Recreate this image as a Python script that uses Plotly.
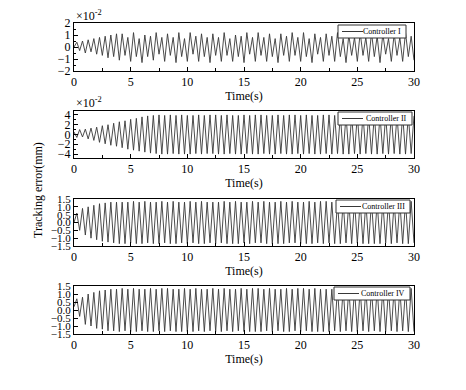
import numpy as np
import plotly.graph_objects as go

# time samples (s) of the read-off extremes, every 0.25 s
time_s = np.arange(0, 30.001, 0.25)

# tracking error, controller I (x1e-2 mm)
err_c1 = [0.0,
          0.4, -0.3, 0.5, -0.5, 0.6, -0.4, 0.7, -0.6,
          0.8, -0.7, 0.9, -0.9, 1.0, -0.8, 1.1, -1.1,
          1.1, -0.7, 0.8, -1.2, 1.2, -0.8, 0.7, -1.3,
          1.0, -0.8, 0.9, -1.1, 1.2, -0.6, 0.8, -1.2,
          1.1, -0.7, 0.8, -1.3, 1.2, -0.8, 0.7, -1.2,
          1.2, -0.6, 0.9, -1.2, 1.1, -0.8, 0.8, -1.3,
          1.1, -0.7, 0.8, -1.2, 1.2, -0.7, 0.7, -1.2,
          1.0, -0.8, 0.9, -1.3, 1.2, -0.6, 0.8, -1.2,
          1.2, -0.7, 0.8, -1.2, 1.1, -0.8, 0.7, -1.3,
          1.1, -0.7, 0.9, -1.2, 1.2, -0.7, 0.8, -1.2,
          1.2, -0.8, 0.7, -1.3, 1.1, -0.6, 0.8, -1.2,
          1.1, -0.7, 0.9, -1.2, 1.2, -0.8, 0.7, -1.3,
          1.0, -0.7, 0.8, -1.2, 1.2, -0.7, 0.8, -1.2,
          1.2, -0.8, 0.9, -1.3, 1.1, -0.6, 0.7, -1.2,
          1.1, -0.7, 0.8, -1.2, 1.2, -0.8, 0.9, -1.1]

# controller II (x1e-2 mm)
err_c2 = [0.5,
          -0.6, 1.0, -0.5, 1.1, -0.9, 1.3, -1.2, 1.5,
          -1.6, 1.8, -1.9, 2.0, -2.2, 2.3, -2.4, 2.6,
          -2.7, 2.8, -3.0, 3.1, -3.2, 3.3, -3.4, 3.6,
          -3.6, 3.8, -3.8, 3.9, -3.9, 4.0, -4.0, 3.9,
          -4.0, 4.0, -3.9, 3.9, -4.0, 4.0, -4.0, 3.9,
          -4.0, 3.9, -3.9, 4.0, -4.0, 3.9, -3.9, 4.0,
          -3.9, 4.0, -4.0, 3.9, -4.0, 4.0, -3.9, 3.9,
          -4.0, 3.9, -4.0, 4.0, -3.9, 3.9, -4.0, 4.0,
          -4.0, 4.0, -3.9, 3.9, -4.0, 3.9, -4.0, 4.0,
          -3.9, 3.9, -4.0, 4.0, -4.0, 4.0, -3.9, 3.9,
          -4.0, 4.0, -3.9, 3.9, -4.0, 3.9, -4.0, 4.0,
          -3.9, 4.0, -4.0, 3.9, -3.9, 4.0, -4.0, 3.9,
          -4.0, 3.9, -3.9, 4.0, -4.0, 4.0, -3.9, 3.9,
          -4.0, 4.0, -4.0, 3.9, -3.9, 3.9, -4.0, 4.0,
          -3.9, 3.9, -4.0, 4.0, -4.0, 3.9, -3.9, 3.8]

# controller III (mm)
err_c3 = [0.0,
          0.6, -0.5, 0.9, -0.8, 1.0, -1.0, 1.1, -1.1,
          1.2, -1.2, 1.25, -1.25, 1.3, -1.3, 1.3, -1.35,
          1.3, -1.35, 1.3, -1.3, 1.35, -1.35, 1.3, -1.35,
          1.35, -1.3, 1.3, -1.35, 1.3, -1.35, 1.35, -1.3,
          1.3, -1.35, 1.35, -1.35, 1.3, -1.3, 1.3, -1.35,
          1.35, -1.3, 1.3, -1.35, 1.35, -1.35, 1.3, -1.3,
          1.3, -1.35, 1.3, -1.3, 1.35, -1.35, 1.3, -1.35,
          1.35, -1.35, 1.3, -1.3, 1.3, -1.35, 1.35, -1.3,
          1.3, -1.3, 1.35, -1.35, 1.3, -1.35, 1.3, -1.35,
          1.35, -1.35, 1.3, -1.3, 1.35, -1.3, 1.3, -1.35,
          1.3, -1.35, 1.35, -1.35, 1.3, -1.3, 1.35, -1.35,
          1.35, -1.3, 1.3, -1.35, 1.3, -1.35, 1.3, -1.3,
          1.3, -1.35, 1.35, -1.3, 1.35, -1.35, 1.3, -1.35,
          1.35, -1.35, 1.3, -1.35, 1.3, -1.3, 1.35, -1.35,
          1.3, -1.3, 1.35, -1.35, 1.3, -1.35, 1.35, -1.3]

# controller IV (mm)
err_c4 = [0.2,
          0.7, -0.4, 0.8, -0.9, 1.0, -1.0, 1.1, -1.15,
          1.2, -1.2, 1.25, -1.3, 1.3, -1.3, 1.3, -1.35,
          1.35, -1.3, 1.3, -1.35, 1.35, -1.35, 1.3, -1.3,
          1.3, -1.35, 1.35, -1.35, 1.3, -1.3, 1.35, -1.35,
          1.35, -1.3, 1.3, -1.35, 1.3, -1.35, 1.35, -1.35,
          1.3, -1.35, 1.35, -1.3, 1.3, -1.35, 1.3, -1.3,
          1.35, -1.35, 1.3, -1.35, 1.35, -1.3, 1.3, -1.35,
          1.3, -1.3, 1.35, -1.35, 1.3, -1.35, 1.35, -1.35,
          1.35, -1.35, 1.3, -1.3, 1.35, -1.35, 1.3, -1.3,
          1.3, -1.35, 1.35, -1.35, 1.3, -1.3, 1.35, -1.35,
          1.35, -1.3, 1.3, -1.35, 1.35, -1.35, 1.3, -1.35,
          1.3, -1.35, 1.3, -1.3, 1.35, -1.35, 1.35, -1.3,
          1.35, -1.35, 1.3, -1.35, 1.3, -1.3, 1.3, -1.35,
          1.3, -1.3, 1.35, -1.35, 1.35, -1.35, 1.3, -1.3,
          1.35, -1.35, 1.3, -1.3, 1.3, -1.35, 1.35, -1.35]

names = ["Controller I", "Controller II", "Controller III", "Controller IV"]
series = [err_c1, err_c2, err_c3, err_c4]
y_ranges = [[-2, 2], [-4.8, 4.8], [-1.5, 1.5], [-1.5, 1.5]]
y_dticks = [1, 2, 0.5, 0.5]
y_formats = ["d", "d", ".1f", ".1f"]

W, H = 466, 390
OFF = 8  # page body margin around the plot div


def px(x):
    return (x - OFF) / W


def py(y):
    return 1 - (y - OFF) / H


# (top, bottom) of each panel in pixels
panels = [(23, 71), (111, 158), (199, 246), (286, 334)]
# legend boxes: (left, right, top) in pixels
legend_box = [(338, 406, 25), (338, 412, 112), (336, 410, 200), (334, 410, 287)]

FONT = "Liberation Serif"
LINE = "#383838"
fig = go.Figure()
layout = {}
shapes = []
annotations = []
for i in range(4):
    k = "" if i == 0 else str(i + 1)
    fig.add_trace(go.Scatter(
        x=time_s, y=series[i], mode="lines", name=names[i],
        line=dict(color=LINE, width=0.9),
        xaxis="x" + k, yaxis="y" + k, showlegend=False,
    ))
    top, bot = panels[i]
    layout["xaxis" + k] = dict(
        domain=[px(74), px(414)], anchor="y" + k, range=[0, 30], dtick=5,
        ticks="inside", ticklen=4, tickcolor="black", automargin=False,
        minor=dict(dtick=2.5, ticks="inside", ticklen=3, tickcolor="black"),
        showline=True, mirror=True, linecolor="black", linewidth=1,
        showgrid=False, zeroline=False,
        tickfont=dict(family=FONT, size=12, color="black"),
        title=dict(text="Time(s)", font=dict(family=FONT, size=12, color="black"),
                   standoff=2),
    )
    layout["yaxis" + k] = dict(
        domain=[py(bot), py(top)], anchor="x" + k,
        range=y_ranges[i], dtick=y_dticks[i], tickformat=y_formats[i],
        ticks="inside", ticklen=4, tickcolor="black", automargin=False,
        minor=dict(ticks="inside", ticklen=2, tickcolor="black", nticks=2),
        showline=True, mirror=True, linecolor="black", linewidth=1,
        showgrid=False, zeroline=False,
        tickfont=dict(family=FONT, size=12 if i < 2 else 11, color="black"),
    )
    # hand-drawn legend box (panel legend)
    lx0, lx1, ly = legend_box[i]
    h = 13
    shapes.append(dict(type="rect", xref="paper", yref="paper",
                       x0=px(lx0), x1=px(lx1), y0=py(ly + h), y1=py(ly),
                       line=dict(color="#333", width=1), fillcolor="white", layer="above"))
    shapes.append(dict(type="line", xref="paper", yref="paper",
                       x0=px(lx0 + 4), x1=px(lx0 + 25),
                       y0=py(ly + h / 2), y1=py(ly + h / 2),
                       line=dict(color=LINE, width=1), layer="above"))
    annotations.append(dict(text=names[i], x=px(lx1 - 3), y=py(ly + h / 2),
                            xref="paper", yref="paper", xanchor="right", yanchor="middle",
                            showarrow=False,
                            font=dict(family=FONT, size=8, color="black")))

annotations += [
    dict(text="×10<sup>-2</sup>", x=px(74), y=py(15), xref="paper", yref="paper",
         xanchor="left", yanchor="middle", showarrow=False,
         font=dict(family=FONT, size=12, color="black")),
    dict(text="×10<sup>-2</sup>", x=px(74), y=py(102), xref="paper", yref="paper",
         xanchor="left", yanchor="middle", showarrow=False,
         font=dict(family=FONT, size=12, color="black")),
    dict(text="Tracking error(mm)", x=px(38), y=py(190), xref="paper", yref="paper",
         xanchor="center", yanchor="middle", textangle=-90, showarrow=False,
         font=dict(family=FONT, size=12, color="black")),
]

fig.update_layout(**layout)
fig.update_layout(
    width=W, height=H, margin=dict(l=0, r=0, t=0, b=0, autoexpand=False),
    paper_bgcolor="white", plot_bgcolor="white", showlegend=False,
    shapes=shapes, annotations=annotations,
)

fig.write_html("out.html")
